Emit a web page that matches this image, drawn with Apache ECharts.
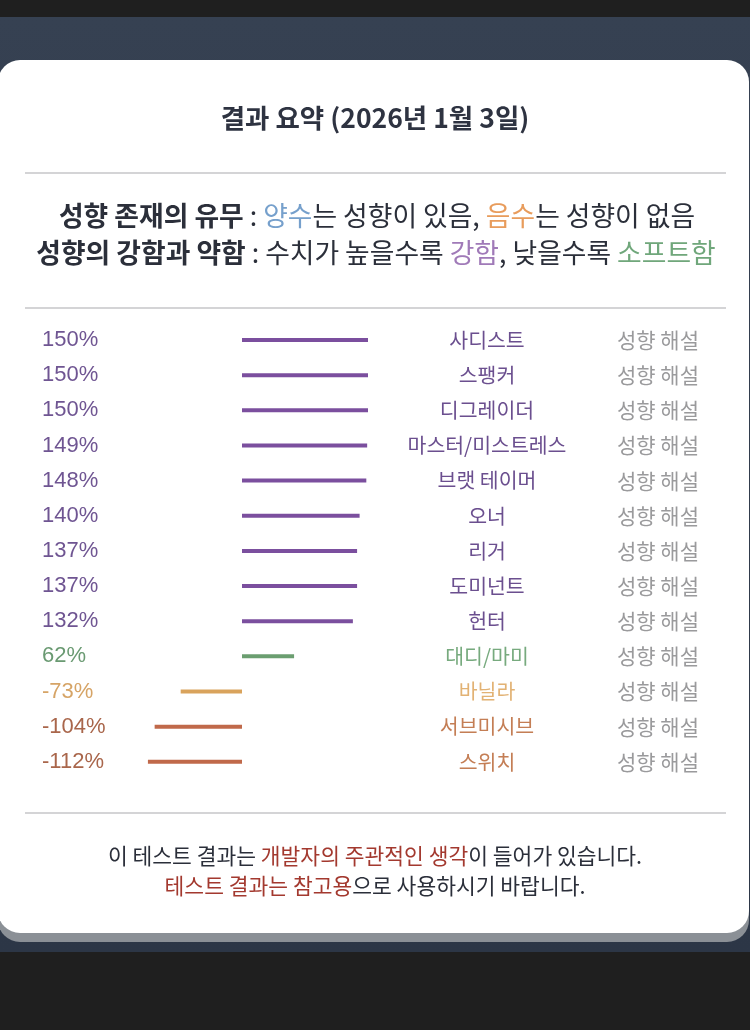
<!DOCTYPE html>
<html><head><meta charset="utf-8">
<script src="https://cdn.jsdelivr.net/npm/echarts@6/dist/echarts.min.js"></script>
<style>html,body{margin:0;padding:0;background:#1f1f1f}#c{width:750px;height:1030px}</style>
</head><body><div id="c"></div>
<script>
// ---- data ----
const categories = ['사디스트','스팽커','디그레이더','마스터/미스트레스','브랫 테이머','오너','리거','도미넌트','헌터','대디/마미','바닐라','서브미시브','스위치'];
const values = [150,150,150,149,148,140,137,137,132,62,-73,-104,-112];
const valueLabels = ['150%','150%','150%','149%','148%','140%','137%','137%','132%','62%','-73%','-104%','-112%'];
const noteLabels = ['성향 해설','성향 해설','성향 해설','성향 해설','성향 해설','성향 해설','성향 해설','성향 해설','성향 해설','성향 해설','성향 해설','성향 해설','성향 해설'];
const titleText = '결과 요약 (2026년 1월 3일)';

// ---- styles ----
function tone(v){ return v >= 100 ? 0 : v >= 0 ? 1 : v > -100 ? 2 : 3; }
const barColors = ['#7b4f9e','#6b9e70','#d9a35c','#c0694a'];
const valueColors = ['#6f5592','#6a9a72','#d6a466','#a9664b'];
const nameColors = ['#6b4f8f','#77aa7e','#e2b274','#c47e55'];
const KR = '"Noto Sans CJK KR","Noto Sans",sans-serif';

const chart = echarts.init(document.getElementById('c'), null, {renderer:'canvas'});
const rowH = 35.15, firstY = 340;
const gridTop = firstY - rowH/2, gridH = rowH * categories.length;

chart.setOption({
  backgroundColor: '#1f1f1f',
  animation: false,
  graphic: [
    {type:'rect', z:-10, shape:{x:0,y:17,width:750,height:935}, style:{fill:new echarts.graphic.LinearGradient(0,0,0,1,[{offset:0,color:'#364152'},{offset:1,color:'#2c3646'}])}},
    {type:'rect', z:-9, shape:{x:-2,y:68,width:751,height:874,r:22}, style:{fill:'#8b9096'}},
    {type:'rect', z:-8, shape:{x:-2,y:60,width:751,height:873,r:22}, style:{fill:'#ffffff'}},
    {type:'text', x:375, y:118, style:{text:titleText, font:'bold 26.5px '+KR, fill:'#2e3341', align:'center', verticalAlign:'middle'}},
    {type:'rect', shape:{x:25,y:172,width:701,height:2}, style:{fill:'#d4d4d6'}},
    {type:'rect', shape:{x:25,y:307,width:701,height:2}, style:{fill:'#d4d4d6'}},
    {type:'rect', shape:{x:25,y:812,width:701,height:2}, style:{fill:'#d4d4d6'}},
    {type:'text', x:377, y:216, style:{
      text:'{b|성향 존재의 유무}{n| : }{blue|양수}{n|는 성향이 있음, }{org|음수}{n|는 성향이 없음}',
      align:'center', verticalAlign:'middle',
      rich:{
        b:{font:'bold 26.8px '+KR, fill:'#2b2f3a'},
        n:{font:'26.8px '+KR, fill:'#2b2f3a'},
        blue:{font:'26.8px '+KR, fill:'#76a0cc'},
        org:{font:'26.8px '+KR, fill:'#e89c5c'}
      }}},
    {type:'text', x:376, y:253, style:{
      text:'{b|성향의 강함과 약함}{n| : 수치가 높을수록 }{pur|강함}{n|, 낮을수록 }{grn|소프트함}',
      align:'center', verticalAlign:'middle',
      rich:{
        b:{font:'bold 26.8px '+KR, fill:'#2b2f3a'},
        n:{font:'26.8px '+KR, fill:'#2b2f3a'},
        pur:{font:'26.8px '+KR, fill:'#a07ab8'},
        grn:{font:'26.8px '+KR, fill:'#70a77b'}
      }}},
    {type:'text', x:375, y:856, style:{
      text:'{n|이 테스트 결과는 }{r|개발자의 주관적인 생각}{n|이 들어가 있습니다.}',
      align:'center', verticalAlign:'middle',
      rich:{ n:{font:'21.5px '+KR, fill:'#2b2f3a'}, r:{font:'21.5px '+KR, fill:'#a3392f'} }}},
    {type:'text', x:375, y:886, style:{
      text:'{r|테스트 결과는 참고용}{n|으로 사용하시기 바랍니다.}',
      align:'center', verticalAlign:'middle',
      rich:{ n:{font:'21.5px '+KR, fill:'#2b2f3a'}, r:{font:'21.5px '+KR, fill:'#a3392f'} }}}
  ],
  grid: {left:74, width:294, top:gridTop, height:gridH, containLabel:false},
  xAxis: {type:'value', min:-200, max:150, show:false},
  yAxis: [
    {type:'category', data:valueLabels, inverse:true, position:'left',
     axisLine:{show:false}, axisTick:{show:false}, splitLine:{show:false},
     axisLabel:{margin:32, align:'left', fontSize:22, fontFamily:'"Liberation Sans",Arial,sans-serif',
       color:(v,i)=>valueColors[tone(values[i])]}},
    {type:'category', data:categories, inverse:true, position:'right',
     axisLine:{show:false}, axisTick:{show:false}, splitLine:{show:false},
     axisLabel:{margin:119, align:'center', fontSize:20.5, fontFamily:KR,
       color:(v,i)=>nameColors[tone(values[i])]}},
    {type:'category', data:noteLabels, inverse:true, position:'right',
     axisLine:{show:false}, axisTick:{show:false}, splitLine:{show:false},
     axisLabel:{margin:249, align:'left', fontSize:21, fontFamily:KR, color:'#9a9a9c'}}
  ],
  series: [{
    type:'bar', data:values, yAxisIndex:0, barWidth:4, silent:true,
    itemStyle:{color:p=>barColors[tone(p.value)]}
  }]
});
</script></body></html>
